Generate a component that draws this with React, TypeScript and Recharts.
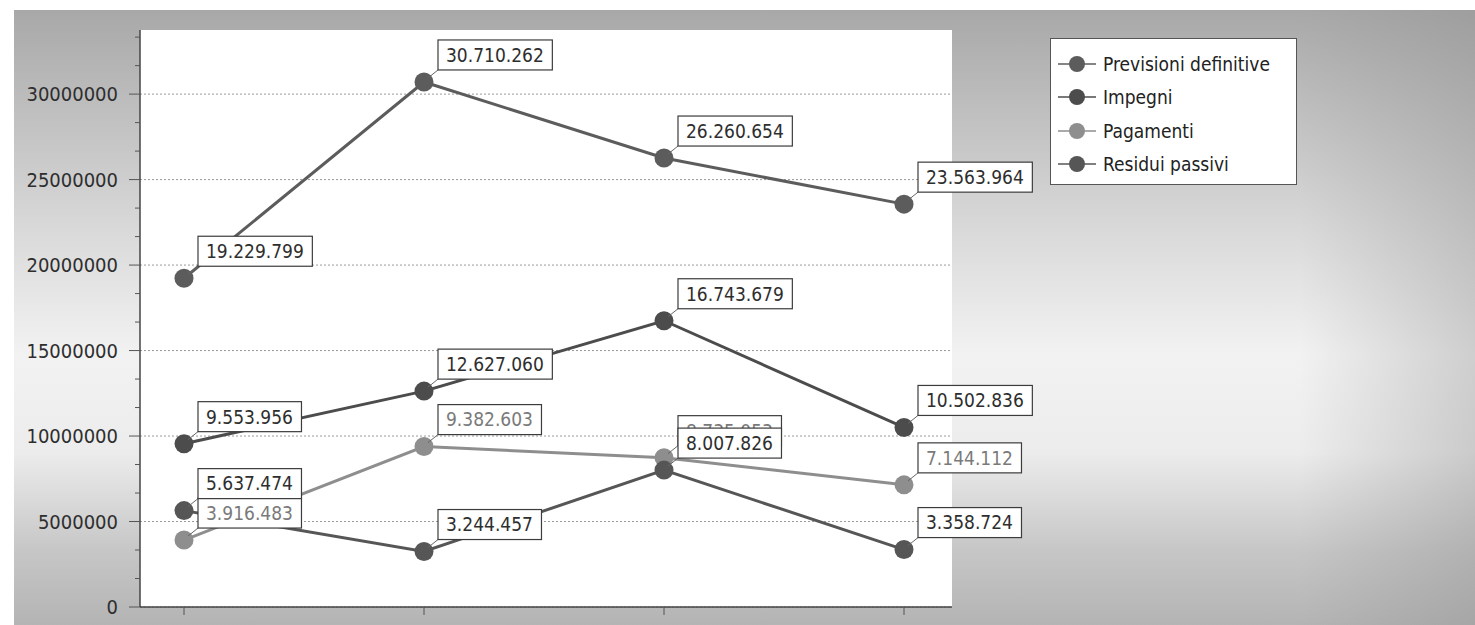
import React from 'react';
import { LineChart, Line, XAxis, YAxis, CartesianGrid, LabelList } from 'recharts';

// Periods on the x axis (no tick labels are shown)
const periods = ['1', '2', '3', '4'];

// Series values
const previsioniDefinitive = [19229799, 30710262, 26260654, 23563964];
const impegni = [9553956, 12627060, 16743679, 10502836];
const pagamenti = [3916483, 9382603, 8735053, 7144112];
const residuiPassivi = [5637474, 3244457, 8007826, 3358724];

// Y axis major ticks
const yMajorTicks = [0, 5000000, 10000000, 15000000, 20000000, 25000000, 30000000];

const series = [
  { key: 'prev', name: 'Previsioni definitive', color: '#5c5c5c', text: '#2e2e2e' },
  { key: 'imp', name: 'Impegni', color: '#4c4c4c', text: '#2e2e2e' },
  { key: 'pag', name: 'Pagamenti', color: '#8e8e8e', text: '#7a7a7a' },
  { key: 'res', name: 'Residui passivi', color: '#565656', text: '#2e2e2e' },
];

const data = periods.map((p, i) => ({
  period: p,
  prev: previsioniDefinitive[i],
  imp: impegni[i],
  pag: pagamenti[i],
  res: residuiPassivi[i],
}));

// minor ticks split every major step in thirds
const yAllTicks: number[] = [];
yMajorTicks.forEach((t, i) => {
  yAllTicks.push(t);
  const next = i < yMajorTicks.length - 1 ? yMajorTicks[i + 1] : t + 5000000;
  const step = (next - t) / 3;
  yAllTicks.push(t + step, t + 2 * step);
});
const Y_MAX = 33750000;
const ticksInDomain = yAllTicks.filter((t) => t <= Y_MAX);

const FONT = '"DejaVu Sans Condensed", "DejaVu Sans", Tahoma, sans-serif';

const fmt = (v: number) => String(Math.round(v)).replace(/\B(?=(\d{3})+(?!\d))/g, '.');

const textWidth = (s: string, size: number) => {
  let w = 0;
  for (const ch of s) w += ch === '.' ? 0.3 * size : 0.572 * size;
  return w;
};

const makeLabel = (textColor: string) => (props: any) => {
  const { x, y, value } = props;
  if (x == null || y == null || value == null) return null;
  const s = fmt(Number(value));
  const fs = 19;
  const w = textWidth(s, fs) + 16;
  const h = 30;
  const bx = x + 14;
  const by = y - 12 - h;
  return (
    <g>
      <line x1={x + 4} y1={y - 4} x2={bx} y2={by + h} stroke="#666" strokeWidth={1} />
      <rect x={bx} y={by} width={w} height={h} fill="#ffffff" stroke="#3c3c3c" strokeWidth={1.2} />
      <text x={bx + 8} y={by + h / 2} dy="0.36em" fontFamily={FONT} fontSize={fs} fill={textColor}>
        {s}
      </text>
    </g>
  );
};

const YTick = (props: any) => {
  const { x, y, payload } = props;
  const v = payload.value as number;
  const major = yMajorTicks.includes(v);
  return (
    <g>
      <line x1={x - (major ? 11 : 5)} y1={y} x2={x} y2={y} stroke="#555" strokeWidth={1} />
      {major && (
        <text x={x - 22} y={y} dy="0.36em" textAnchor="end" fontFamily={FONT} fontSize={20} fill="#2e2e2e">
          {v}
        </text>
      )}
    </g>
  );
};

const LegendBox = () => (
  <div
    style={{
      position: 'absolute',
      left: 1050,
      top: 38,
      width: 247,
      height: 147,
      background: '#ffffff',
      border: '1px solid #555',
      boxSizing: 'border-box',
      paddingTop: 8,
    }}
  >
    {series.map((s) => (
      <div key={s.key} style={{ display: 'flex', alignItems: 'center', height: 33.5 }}>
        <svg width={50} height={20} style={{ marginLeft: 5 }}>
          <line x1={2} y1={10} x2={40} y2={10} stroke={s.color} strokeWidth={1.5} />
          <circle cx={21} cy={10} r={8} fill={s.color} />
        </svg>
        <span style={{ fontFamily: FONT, fontSize: 19, color: '#222', marginLeft: -3 }}>{s.name}</span>
      </div>
    ))}
  </div>
);

export default function App() {
  return (
    <div style={{ position: 'absolute', left: 0, top: 0, width: 1475, height: 625, background: '#ffffff', overflow: 'hidden' }}>
      <div
        style={{
          position: 'absolute',
          left: 14,
          top: 10,
          width: 1461,
          height: 615,
          background:
            'linear-gradient(to right, rgba(140,140,140,0) 0%, rgba(140,140,140,0) 88%, rgba(140,140,140,0.35) 100%), linear-gradient(to bottom, #a8a8a8 0%, #bdbdbd 15%, #dcdcdc 38%, #f2f2f2 56%, #ececec 72%, #c6c6c6 88%, #b4b4b4 100%)',
        }}
      />
      <LineChart
        width={1475}
        height={625}
        data={data}
        margin={{ top: 30, right: 523, bottom: 0, left: 0 }}
        style={{ position: 'absolute', left: 0, top: 0 }}
      >
        <CartesianGrid
          vertical={false}
          horizontalValues={yMajorTicks}
          fill="#ffffff"
          stroke="#9a9a9a"
          strokeDasharray="2 2"
        />
        <XAxis
          dataKey="period"
          padding={{ left: 44, right: 48 }}
          axisLine={{ stroke: '#444', strokeWidth: 1.5 }}
          tickLine={{ stroke: '#555' }}
          tickSize={8}
          tickFormatter={() => ''}
          height={18}
        />
        <YAxis
          domain={[0, Y_MAX]}
          ticks={ticksInDomain}
          interval={0}
          width={140}
          axisLine={{ stroke: '#444', strokeWidth: 1.5 }}
          tickLine={false}
          tickSize={0}
          tickMargin={0}
          tick={<YTick />}
          allowDataOverflow
        />
        {series.map((s) => (
          <Line
            key={s.key}
            type="linear"
            dataKey={s.key}
            name={s.name}
            stroke={s.color}
            strokeWidth={3}
            dot={{ r: 9.5, fill: s.color, stroke: s.color, strokeWidth: 0 }}
            activeDot={false}
            isAnimationActive={false}
          />
        ))}
        {/* value boxes drawn above every line */}
        {series.map((s) => (
          <Line
            key={s.key + '-labels'}
            type="linear"
            dataKey={s.key}
            stroke="none"
            dot={false}
            activeDot={false}
            legendType="none"
            isAnimationActive={false}
          >
            <LabelList dataKey={s.key} content={makeLabel(s.text)} />
          </Line>
        ))}
      </LineChart>
      <LegendBox />
    </div>
  );
}
